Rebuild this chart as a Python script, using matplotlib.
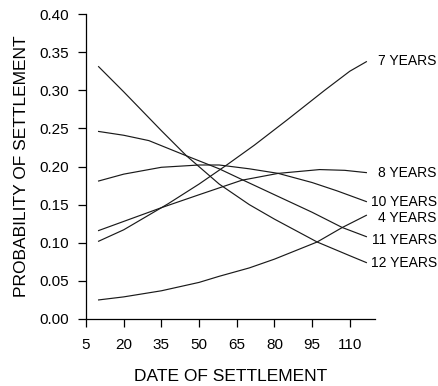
import matplotlib.pyplot as plt
import matplotlib as mpl

mpl.rcParams["font.family"] = ["Liberation Sans", "DejaVu Sans"]

# curves: date of settlement -> probability of settlement
x_4yrs = [10, 20, 35, 50, 58, 70, 80, 97, 107, 116.6]
p_4yrs = [0.025, 0.029, 0.037, 0.048, 0.056, 0.067, 0.0785, 0.101, 0.120, 0.136]

x_7yrs = [10, 20, 37.6, 50, 61, 72, 85, 100, 110, 116.6]
p_7yrs = [0.102, 0.117, 0.151, 0.177, 0.202, 0.228, 0.261, 0.300, 0.325, 0.3375]

x_8yrs = [10, 20, 35, 50, 67, 81.5, 98, 108, 116.6]
p_8yrs = [0.116, 0.128, 0.146, 0.163, 0.182, 0.191, 0.196, 0.195, 0.192]

x_10yrs = [10, 20, 35, 50, 58, 70, 81.5, 95, 105, 116.6]
p_10yrs = [0.181, 0.190, 0.199, 0.202, 0.202, 0.197, 0.191, 0.179, 0.168, 0.154]

x_11yrs = [10, 20, 30, 45, 58, 67, 80, 95, 107, 116.6]
p_11yrs = [0.246, 0.241, 0.234, 0.214, 0.197, 0.183, 0.163, 0.140, 0.120, 0.108]

x_12yrs = [10, 20, 35, 45, 58, 70, 80, 97, 110, 116.6]
p_12yrs = [0.331, 0.298, 0.247, 0.214, 0.177, 0.150, 0.131, 0.101, 0.083, 0.074]

labels = ["7 YEARS", "8 YEARS", "10 YEARS", "4 YEARS", "11 YEARS", "12 YEARS"]
label_y = [0.338, 0.191, 0.154, 0.132, 0.104, 0.073]

xticks = [5, 20, 35, 50, 65, 80, 95, 110]
yticks = [0.00, 0.05, 0.10, 0.15, 0.20, 0.25, 0.30, 0.35, 0.40]

fig = plt.figure(figsize=(4.39, 3.86), dpi=100)
ax = fig.add_axes([0.196, 0.1736, 0.658, 0.790])

curves = [(x_7yrs, p_7yrs), (x_8yrs, p_8yrs), (x_10yrs, p_10yrs),
          (x_4yrs, p_4yrs), (x_11yrs, p_11yrs), (x_12yrs, p_12yrs)]
for xs, ys in curves:
    ax.plot(xs, ys, color="#1a1a1a", lw=0.85)

for lab, y in zip(labels, label_y):
    ax.text(144.6, y, lab, ha="right", va="center", fontsize=10, clip_on=False)

ax.set_xlim(5, 120)
ax.set_ylim(0, 0.40)
ax.set_xticks(xticks)
ax.set_yticks(yticks)
ax.set_yticklabels([f"{v:.2f}" for v in yticks])
ax.tick_params(direction="out", length=6, width=0.9, labelsize=11, pad=6)
ax.tick_params(axis="x", pad=8)
for s in ["top", "right"]:
    ax.spines[s].set_visible(False)
for s in ["left", "bottom"]:
    ax.spines[s].set_linewidth(0.9)

ax.set_xlabel("DATE OF SETTLEMENT", fontsize=12.5, labelpad=12)
ax.set_ylabel("PROBABILITY OF SETTLEMENT", fontsize=12.5, labelpad=8)

plt.savefig("out.png", dpi=100)
